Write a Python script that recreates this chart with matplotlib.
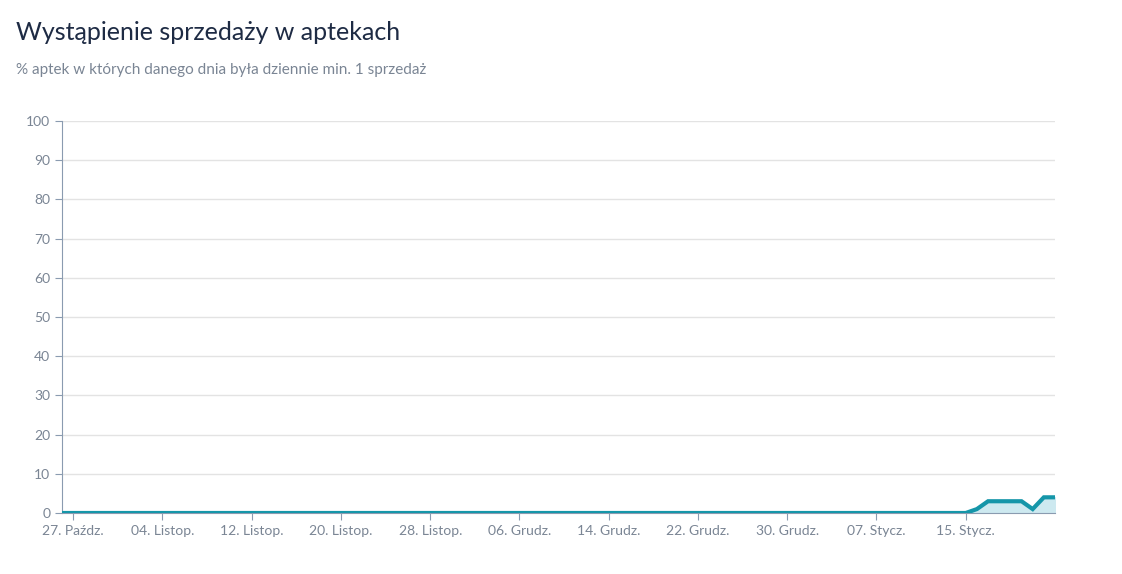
import matplotlib
matplotlib.use("Agg")
import matplotlib.pyplot as plt
import numpy as np
import datetime as dt

start = dt.date(2023, 10, 26)
n_days = 90
dates = [start + dt.timedelta(days=i) for i in range(n_days)]
tail = [0, 1, 3, 3, 3, 3, 1, 4, 4]  # Jan 15 .. Jan 23
values = [0] * (n_days - len(tail)) + tail
tick_dates = [dt.date(2023, 10, 27) + dt.timedelta(days=8 * i) for i in range(11)]
tick_labels = ["27. Paźdz.", "04. Listop.", "12. Listop.", "20. Listop.", "28. Listop.",
               "06. Grudz.", "14. Grudz.", "22. Grudz.", "30. Grudz.", "07. Stycz.", "15. Stycz."]

plt.rcParams['font.family'] = ['Lato', 'DejaVu Sans']
fig = plt.figure(figsize=(11.22, 5.74), dpi=100)
ax = fig.add_axes([62/1122, 1-513/574, (1055-62)/1122, (513-121)/574])
x = np.array([(d - start).days for d in dates])
ax.fill_between(x, values, 0, color="#cde9f0", zorder=2)
ax.plot(x, values, color="#1596a9", lw=3, zorder=3, solid_joinstyle='miter')
ax.set_xlim(x[0], x[-1])
ax.set_ylim(0, 100)
ax.set_yticks(range(0, 101, 10))
ax.set_xticks([(d - start).days for d in tick_dates])
ax.set_xticklabels(tick_labels)
ax.grid(axis='y', color='#e3e3e3', lw=1)
ax.set_axisbelow(True)
for s in ['top', 'right']:
    ax.spines[s].set_visible(False)
ax.spines['left'].set_color('#8a9bb0')
ax.spines['bottom'].set_color('#8a9bb0')
ax.tick_params(colors='#8a9bb0', labelsize=10, length=5)
ax.tick_params(axis='y', length=5)
for lab in ax.get_xticklabels() + ax.get_yticklabels():
    lab.set_color('#7a8594')
fig.text(16/1122, 1-33/574, "Wystąpienie sprzedaży w aptekach", fontsize=18, color='#1e2b44', va='center')
fig.text(16/1122, 1-70/574, "% aptek w których danego dnia była dziennie min. 1 sprzedaż", fontsize=11, color='#7a8594', va='center')
fig.savefig("out.png", dpi=100)
